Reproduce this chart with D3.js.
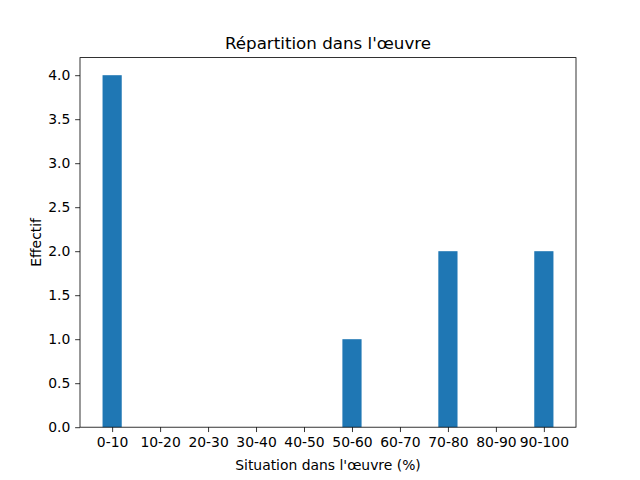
<!DOCTYPE html>
<html><head><meta charset="utf-8">
<script src="https://cdn.jsdelivr.net/npm/d3@7"></script>
<style>body{margin:0;background:#fff}svg{display:block}text{font-family:"DejaVu Sans",sans-serif}</style>
</head><body>
<script>
const categories = ["0-10","10-20","20-30","30-40","40-50","50-60","60-70","70-80","80-90","90-100"];
const values = [4,0,0,0,0,1,0,2,0,2];
const yTicks = [0,0.5,1.0,1.5,2.0,2.5,3.0,3.5,4.0];
const title = "Répartition dans l'œuvre";
const xLabel = "Situation dans l'œuvre (%)";
const yLabel = "Effectif";

const W=640,H=480;
const L=80,R=576,T=57.6,B=427.2;
const svg=d3.select("body").append("svg").attr("width",W).attr("height",H);
const barW=0.4;
const x=d3.scaleLinear().domain([-0.2-0.047*10, 9.2+0.047*10]).range([L,R]);
x.domain([-0.2-0.05*9.4, 9.2+0.05*9.4]);
const y=d3.scaleLinear().domain([0,4.2]).range([B,T]);

svg.append("g").selectAll("rect").data(values).join("rect")
 .attr("x",(d,i)=>x(i-barW/2)).attr("width",(d,i)=>x(i+barW/2)-x(i-barW/2))
 .attr("y",d=>y(d)).attr("height",d=>B-y(d)).attr("fill","#1f77b4");

const fs=13.9;
const xa=svg.append("g").attr("transform",`translate(0,${B})`)
 .call(d3.axisBottom(x).tickValues(d3.range(categories.length)).tickFormat(i=>categories[i]).tickSizeOuter(0).tickSize(4.86).tickPadding(4.86));
const ya=svg.append("g").attr("transform",`translate(${L},0)`)
 .call(d3.axisLeft(y).tickValues(yTicks).tickFormat(d3.format(".1f")).tickSizeOuter(0).tickSize(4.86).tickPadding(4.86));
[xa,ya].forEach(a=>{a.select(".domain").remove();a.selectAll("text").attr("font-size",fs).attr("fill","#000").attr("font-family","DejaVu Sans");a.selectAll("line").attr("stroke","#000").attr("stroke-width",0.8);});
xa.selectAll("text").attr("dy","0.71em");
svg.append("rect").attr("x",L).attr("y",T).attr("width",R-L).attr("height",B-T).attr("fill","none").attr("stroke","#000").attr("stroke-width",0.8);

svg.append("text").attr("x",(L+R)/2).attr("y",T-8.3).attr("text-anchor","middle").attr("font-size",16.7).text(title);
svg.append("text").attr("x",(L+R)/2).attr("y",470).attr("text-anchor","middle").attr("font-size",fs).text(xLabel);
svg.append("text").attr("transform",`translate(40.5,${(T+B)/2}) rotate(-90)`).attr("text-anchor","middle").attr("font-size",fs).text(yLabel);
</script>
</body></html>
